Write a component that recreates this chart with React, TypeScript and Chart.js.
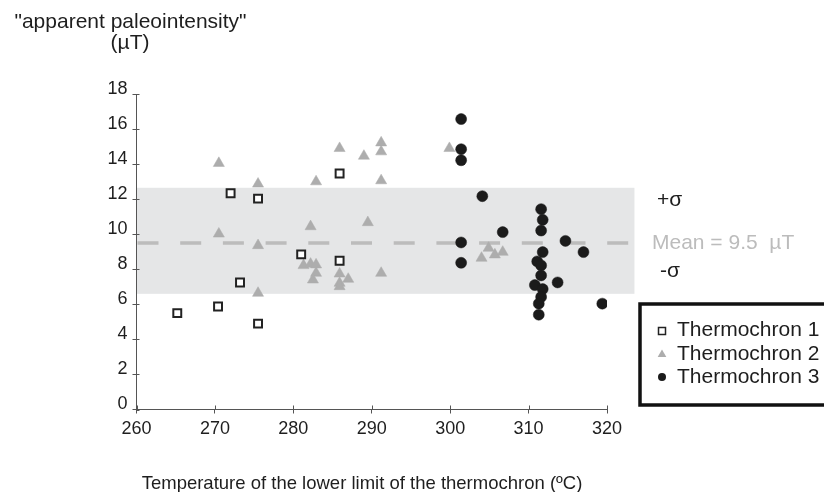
import { useEffect, useRef } from "react";
import { Chart, registerables } from "chart.js";

Chart.register(...registerables);

// ---- data ----
const xTicks = [260, 270, 280, 290, 300, 310, 320];
const yTicks = [0, 2, 4, 6, 8, 10, 12, 14, 16, 18];

const t1Temp = [265.2, 270.4, 272.0, 273.2, 275.5, 275.5, 281.0, 285.9, 285.9];
const t1Int = [5.5, 5.88, 12.34, 7.25, 12.03, 4.9, 8.85, 13.46, 8.49];

const t2Temp = [
  270.5, 270.5, 275.5, 275.5, 275.5, 281.3, 282.2, 282.9, 282.9, 282.5, 282.2, 282.9,
  285.9, 285.9, 285.9, 285.9, 287.0, 289.0, 289.5, 291.2, 291.2, 291.2, 291.2, 299.9,
  304.0, 304.9, 305.7, 306.7,
];
const t2Int = [
  14.05, 10.02, 12.87, 9.36, 6.64, 8.22, 8.3, 8.26, 7.78, 7.4, 10.44, 13.0,
  14.9, 7.74, 7.21, 7.02, 7.44, 14.46, 10.67, 15.22, 14.71, 13.06, 7.78, 14.9,
  8.64, 9.21, 8.83, 8.98,
];

const t3Temp = [
  301.4, 301.4, 301.4, 301.4, 301.4, 304.1, 306.7, 311.6, 311.8, 311.6, 311.8, 311.1,
  311.6, 311.6, 310.8, 311.8, 311.6, 311.3, 311.3, 313.7, 314.7, 317.0, 319.4,
];
const t3Int = [
  16.57, 14.85, 14.22, 9.53, 8.37, 12.17, 10.12, 11.43, 10.82, 10.21, 8.98, 8.45,
  8.22, 7.65, 7.1, 6.87, 6.42, 6.04, 5.41, 7.25, 9.62, 8.98, 6.04,
];

const seriesNames = ["Thermochron 1", "Thermochron 2", "Thermochron 3"];
const meanValue = 9.5;
const sigmaLow = 6.6;
const sigmaHigh = 12.65;
const bandEndTemp = 323.5;
const yTitleLines = ['"apparent paleointensity"', "(\u00b5T)"];
const xTitle = "Temperature of the lower limit of the thermochron (\u00baC)";
const meanLabel = "Mean = 9.5  \u00b5T";
const plusSigma = "+\u03c3";
const minusSigma = "-\u03c3";

// ---- styles ----
const FONT = '"Liberation Sans", Arial, Helvetica, sans-serif';
const axisColor = "#555";
const textColor = "#1e1e1e";
const t2Color = "#adadad";
const t3Color = "#1b1b1b";
const bandColor = "#e5e6e7";
const meanColor = "#bcbcbc";

const toPts = (xs: number[], ys: number[]) => xs.map((x, i) => ({ x, y: ys[i] }));

function drawTri(ctx: CanvasRenderingContext2D, x: number, y: number, r: number) {
  ctx.beginPath();
  ctx.moveTo(x, y - r);
  ctx.lineTo(x + r * 0.866, y + r * 0.5);
  ctx.lineTo(x - r * 0.866, y + r * 0.5);
  ctx.closePath();
}

const decorPlugin = {
  id: "decor",
  beforeDatasetsDraw(chart: any) {
    const { ctx, chartArea, scales } = chart;
    const xs = scales.x;
    const ys = scales.y;
    const x0 = chartArea.left + 0.5;
    const x1 = xs.getPixelForValue(bandEndTemp);
    const yTop = ys.getPixelForValue(sigmaHigh);
    const yBot = ys.getPixelForValue(sigmaLow);
    ctx.save();
    ctx.fillStyle = bandColor;
    ctx.fillRect(x0, yTop, x1 - x0, yBot - yTop);
    const ym = ys.getPixelForValue(meanValue);
    ctx.strokeStyle = meanColor;
    ctx.lineWidth = 3.5;
    ctx.setLineDash([21, 21.7]);
    ctx.beginPath();
    ctx.moveTo(x0 + 0.5, ym);
    ctx.lineTo(x1 - 4, ym);
    ctx.stroke();
    ctx.setLineDash([]);
    // inward tick marks
    ctx.strokeStyle = axisColor;
    ctx.lineWidth = 1;
    ctx.beginPath();
    for (const v of yTicks) {
      const p = Math.round(ys.getPixelForValue(v)) + 0.5;
      ctx.moveTo(chartArea.left, p);
      ctx.lineTo(chartArea.left + 3, p);
    }
    for (const v of xTicks) {
      const p = Math.round(xs.getPixelForValue(v)) + 0.5;
      ctx.moveTo(p, chartArea.bottom);
      ctx.lineTo(p, chartArea.bottom - 4);
    }
    ctx.stroke();
    ctx.restore();
  },
  afterDraw(chart: any) {
    const { ctx } = chart;
    ctx.save();
    ctx.textBaseline = "alphabetic";
    ctx.fillStyle = textColor;
    ctx.font = `21px ${FONT}`;
    ctx.textAlign = "center";
    ctx.fillText(yTitleLines[0], 130.5, 28);
    ctx.fillText(yTitleLines[1], 130, 49);
    ctx.font = `18.5px ${FONT}`;
    ctx.fillText(xTitle, 362, 489);
    ctx.font = `21px ${FONT}`;
    ctx.textAlign = "left";
    ctx.fillText(plusSigma, 657, 206);
    ctx.fillText(minusSigma, 660, 277);
    ctx.fillStyle = meanColor;
    ctx.fillText(meanLabel, 652, 248.5);

    // legend box
    ctx.strokeStyle = "#111";
    ctx.lineWidth = 3.5;
    ctx.strokeRect(640, 304, 200, 101);
    ctx.font = `21px ${FONT}`;
    const rows = [331, 354, 377];
    const baselines = [336, 360, 383];
    seriesNames.forEach((name, i) => {
      const y = rows[i];
      const mx = 662;
      if (i === 0) {
        ctx.fillStyle = "#fff";
        ctx.strokeStyle = "#222";
        ctx.lineWidth = 1.5;
        ctx.fillRect(mx - 3.5, y - 3.5, 7, 7);
        ctx.strokeRect(mx - 3.5, y - 3.5, 7, 7);
      } else if (i === 1) {
        ctx.fillStyle = t2Color;
        drawTri(ctx, mx, y + 0.5, 5);
        ctx.fill();
      } else {
        ctx.fillStyle = t3Color;
        ctx.beginPath();
        ctx.arc(mx, y, 4, 0, Math.PI * 2);
        ctx.fill();
      }
      ctx.fillStyle = textColor;
      ctx.textBaseline = "alphabetic";
      ctx.fillText(name, 677, baselines[i]);
    });
    ctx.restore();
  },
};

export default function App() {
  const ref = useRef<HTMLCanvasElement>(null);
  useEffect(() => {
    document.body.style.margin = "0";
    const tickFont = { family: FONT, size: 18 };
    const chart = new Chart(ref.current!, {
      type: "scatter",
      data: {
        datasets: [
          {
            label: seriesNames[0],
            data: toPts(t1Temp, t1Int),
            pointStyle: "rect",
            pointRadius: 5.6,
            backgroundColor: "#fff",
            borderColor: "#222",
            borderWidth: 2,
          },
          {
            label: seriesNames[1],
            data: toPts(t2Temp, t2Int),
            pointStyle: "triangle",
            pointRadius: 6.4,
            backgroundColor: t2Color,
            borderColor: t2Color,
            borderWidth: 0.5,
          },
          {
            label: seriesNames[2],
            data: toPts(t3Temp, t3Int),
            pointStyle: "circle",
            pointRadius: 5.5,
            backgroundColor: t3Color,
            borderColor: t3Color,
            borderWidth: 0.5,
          },
        ],
      },
      options: {
        animation: false,
        responsive: true,
        maintainAspectRatio: false,
        layout: { padding: { left: 0, right: 217, top: 94, bottom: 0 } },
        plugins: { legend: { display: false }, tooltip: { enabled: false } },
        scales: {
          x: {
            type: "linear",
            min: 260,
            max: 320,
            afterBuildTicks: (s: any) => {
              s.ticks = xTicks.map((v) => ({ value: v }));
            },
            afterFit: (s: any) => {
              s.height = 82.5;
              s.paddingLeft = 0;
              s.paddingRight = 0;
            },
            grid: { drawOnChartArea: false, tickLength: 4, color: axisColor },
            border: { color: axisColor, width: 1 },
            ticks: { font: tickFont, color: textColor, padding: 5, maxRotation: 0 },
          },
          y: {
            type: "linear",
            min: 0,
            max: 18,
            afterBuildTicks: (s: any) => {
              s.ticks = yTicks.map((v) => ({ value: v }));
            },
            afterFit: (s: any) => {
              s.width = 136.5;
              s.paddingTop = 0;
              s.paddingBottom = 0;
            },
            grid: { drawOnChartArea: false, tickLength: 4, color: axisColor },
            border: { color: axisColor, width: 1 },
            ticks: { font: tickFont, color: textColor, padding: 5, labelOffset: -5 },
          },
        },
      },
      plugins: [decorPlugin],
    } as any);
    return () => chart.destroy();
  }, []);
  return (
    <div style={{ position: "absolute", left: 0, top: 0, width: 824, height: 492 }}>
      <canvas ref={ref} />
    </div>
  );
}
